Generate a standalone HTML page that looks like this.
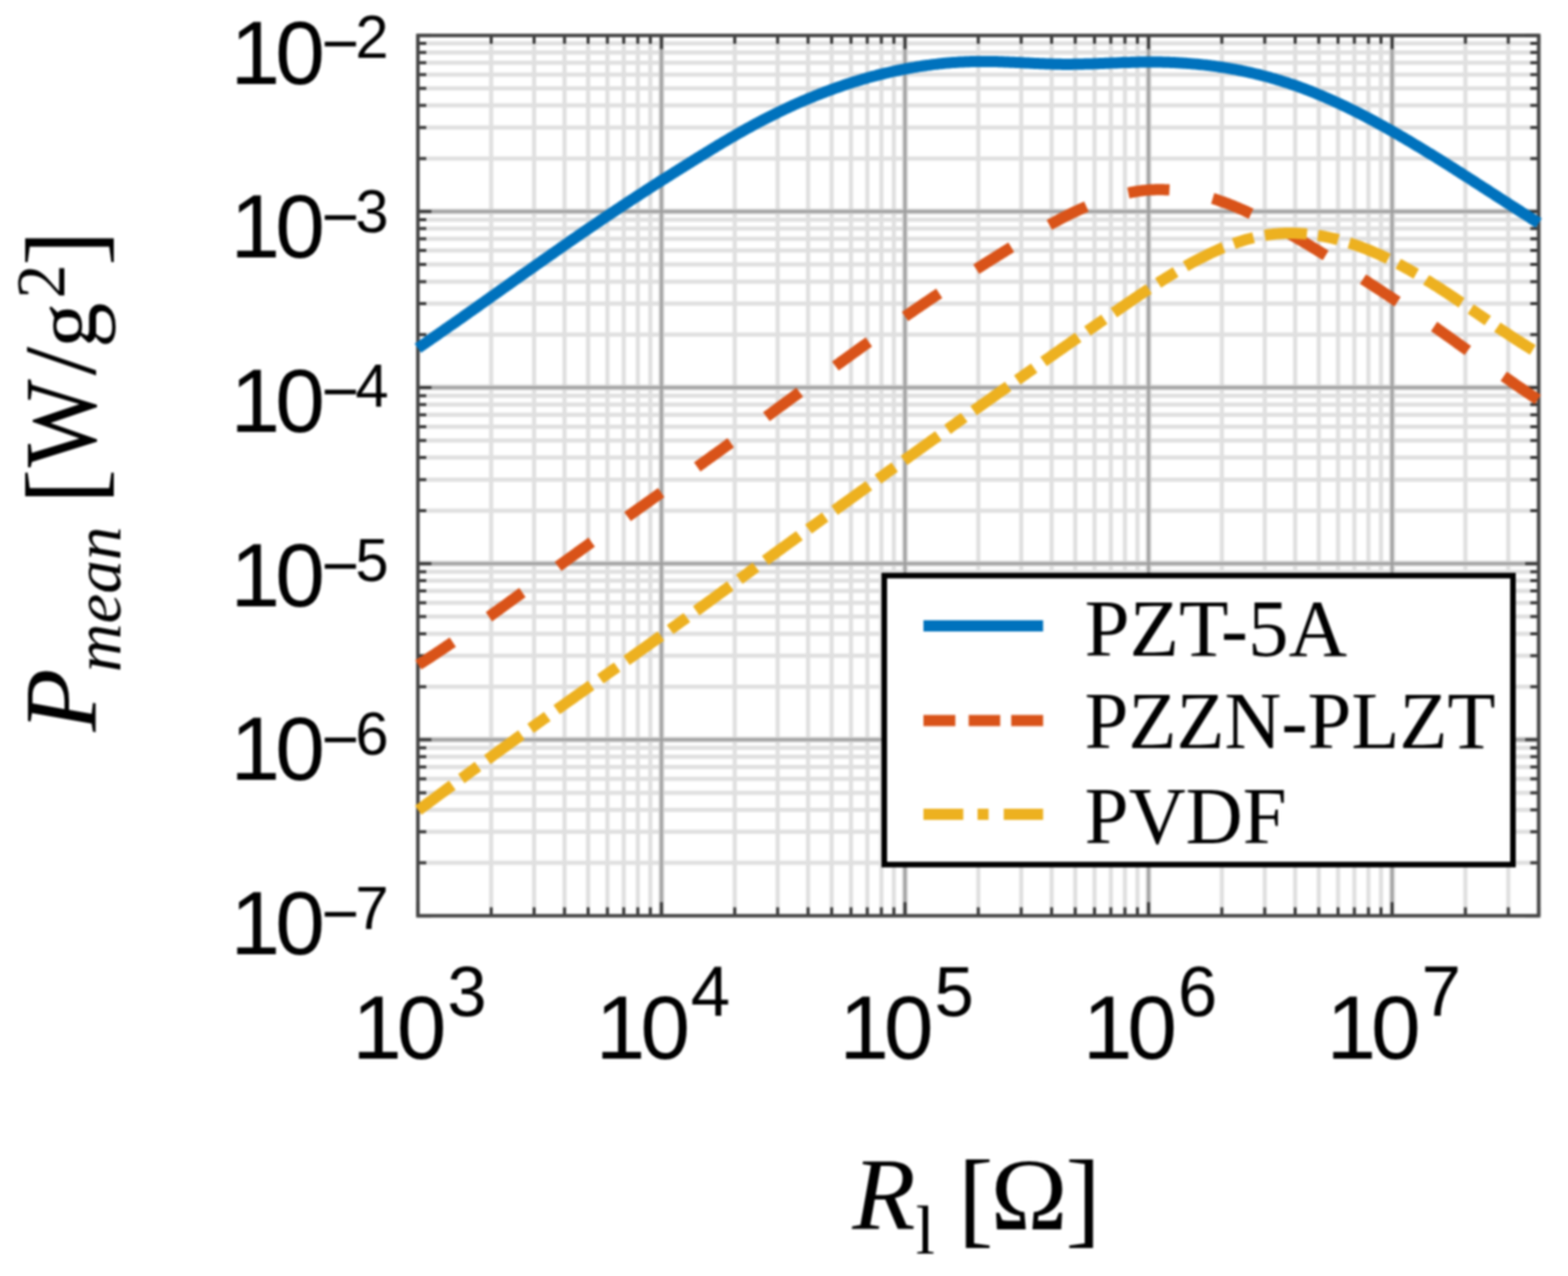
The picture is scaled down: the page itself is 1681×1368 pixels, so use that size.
<!DOCTYPE html><html><head><meta charset="utf-8"><title>P_mean vs R_l</title>
<style>html,body{margin:0;padding:0;background:#fff;}svg{display:block;filter:blur(1px);}</style></head><body>
<svg width="1681" height="1368" viewBox="0 0 1681 1368">
<rect x="0" y="0" width="1681" height="1368" fill="#fff"/>
<path d="M526.6,38.0V981.8M572.6,38.0V981.8M605.2,38.0V981.8M630.5,38.0V981.8M651.2,38.0V981.8M668.7,38.0V981.8M683.8,38.0V981.8M697.2,38.0V981.8M787.7,38.0V981.8M833.7,38.0V981.8M866.3,38.0V981.8M891.6,38.0V981.8M912.3,38.0V981.8M929.8,38.0V981.8M944.9,38.0V981.8M958.3,38.0V981.8M1048.8,38.0V981.8M1094.8,38.0V981.8M1127.4,38.0V981.8M1152.7,38.0V981.8M1173.4,38.0V981.8M1190.9,38.0V981.8M1206.0,38.0V981.8M1219.4,38.0V981.8M1309.9,38.0V981.8M1355.9,38.0V981.8M1388.5,38.0V981.8M1413.8,38.0V981.8M1434.5,38.0V981.8M1452.0,38.0V981.8M1467.1,38.0V981.8M1480.5,38.0V981.8M1571.0,38.0V981.8M1617.0,38.0V981.8M1649.6,38.0V981.8M448.0,925.0H1649.6M448.0,891.7H1649.6M448.0,868.2H1649.6M448.0,849.9H1649.6M448.0,834.9H1649.6M448.0,822.3H1649.6M448.0,811.3H1649.6M448.0,801.7H1649.6M448.0,736.2H1649.6M448.0,703.0H1649.6M448.0,679.4H1649.6M448.0,661.1H1649.6M448.0,646.2H1649.6M448.0,633.5H1649.6M448.0,622.6H1649.6M448.0,612.9H1649.6M448.0,547.5H1649.6M448.0,514.2H1649.6M448.0,490.6H1649.6M448.0,472.3H1649.6M448.0,457.4H1649.6M448.0,444.8H1649.6M448.0,433.8H1649.6M448.0,424.2H1649.6M448.0,358.7H1649.6M448.0,325.5H1649.6M448.0,301.9H1649.6M448.0,283.6H1649.6M448.0,268.6H1649.6M448.0,256.0H1649.6M448.0,245.1H1649.6M448.0,235.4H1649.6M448.0,169.9H1649.6M448.0,136.7H1649.6M448.0,113.1H1649.6M448.0,94.8H1649.6M448.0,79.9H1649.6M448.0,67.2H1649.6M448.0,56.3H1649.6M448.0,46.6H1649.6" stroke="#e0e0e0" stroke-width="4.5" fill="none"/>
<path d="M709.1,38.0V981.8M970.2,38.0V981.8M1231.3,38.0V981.8M1492.4,38.0V981.8M448.0,793.0H1649.6M448.0,604.3H1649.6M448.0,415.5H1649.6M448.0,226.8H1649.6" stroke="#d0d0d0" stroke-width="6" fill="none"/>
<path d="M709.1,38.0V981.8M970.2,38.0V981.8M1231.3,38.0V981.8M1492.4,38.0V981.8M448.0,793.0H1649.6M448.0,604.3H1649.6M448.0,415.5H1649.6M448.0,226.8H1649.6" stroke="#9c9c9c" stroke-width="2.5" fill="none"/>
<path d="M448.0,981.8v-14.5M448.0,38.0v14.5M709.1,981.8v-14.5M709.1,38.0v14.5M970.2,981.8v-14.5M970.2,38.0v14.5M1231.3,981.8v-14.5M1231.3,38.0v14.5M1492.4,981.8v-14.5M1492.4,38.0v14.5M526.6,981.8v-9M526.6,38.0v9M572.6,981.8v-9M572.6,38.0v9M605.2,981.8v-9M605.2,38.0v9M630.5,981.8v-9M630.5,38.0v9M651.2,981.8v-9M651.2,38.0v9M668.7,981.8v-9M668.7,38.0v9M683.8,981.8v-9M683.8,38.0v9M697.2,981.8v-9M697.2,38.0v9M787.7,981.8v-9M787.7,38.0v9M833.7,981.8v-9M833.7,38.0v9M866.3,981.8v-9M866.3,38.0v9M891.6,981.8v-9M891.6,38.0v9M912.3,981.8v-9M912.3,38.0v9M929.8,981.8v-9M929.8,38.0v9M944.9,981.8v-9M944.9,38.0v9M958.3,981.8v-9M958.3,38.0v9M1048.8,981.8v-9M1048.8,38.0v9M1094.8,981.8v-9M1094.8,38.0v9M1127.4,981.8v-9M1127.4,38.0v9M1152.7,981.8v-9M1152.7,38.0v9M1173.4,981.8v-9M1173.4,38.0v9M1190.9,981.8v-9M1190.9,38.0v9M1206.0,981.8v-9M1206.0,38.0v9M1219.4,981.8v-9M1219.4,38.0v9M1309.9,981.8v-9M1309.9,38.0v9M1355.9,981.8v-9M1355.9,38.0v9M1388.5,981.8v-9M1388.5,38.0v9M1413.8,981.8v-9M1413.8,38.0v9M1434.5,981.8v-9M1434.5,38.0v9M1452.0,981.8v-9M1452.0,38.0v9M1467.1,981.8v-9M1467.1,38.0v9M1480.5,981.8v-9M1480.5,38.0v9M1571.0,981.8v-9M1571.0,38.0v9M1617.0,981.8v-9M1617.0,38.0v9M1649.6,981.8v-9M1649.6,38.0v9M448.0,981.8h14.5M1649.6,981.8h-14.5M448.0,793.0h14.5M1649.6,793.0h-14.5M448.0,604.3h14.5M1649.6,604.3h-14.5M448.0,415.5h14.5M1649.6,415.5h-14.5M448.0,226.8h14.5M1649.6,226.8h-14.5M448.0,38.0h14.5M1649.6,38.0h-14.5M448.0,925.0h9M1649.6,925.0h-9M448.0,891.7h9M1649.6,891.7h-9M448.0,868.2h9M1649.6,868.2h-9M448.0,849.9h9M1649.6,849.9h-9M448.0,834.9h9M1649.6,834.9h-9M448.0,822.3h9M1649.6,822.3h-9M448.0,811.3h9M1649.6,811.3h-9M448.0,801.7h9M1649.6,801.7h-9M448.0,736.2h9M1649.6,736.2h-9M448.0,703.0h9M1649.6,703.0h-9M448.0,679.4h9M1649.6,679.4h-9M448.0,661.1h9M1649.6,661.1h-9M448.0,646.2h9M1649.6,646.2h-9M448.0,633.5h9M1649.6,633.5h-9M448.0,622.6h9M1649.6,622.6h-9M448.0,612.9h9M1649.6,612.9h-9M448.0,547.5h9M1649.6,547.5h-9M448.0,514.2h9M1649.6,514.2h-9M448.0,490.6h9M1649.6,490.6h-9M448.0,472.3h9M1649.6,472.3h-9M448.0,457.4h9M1649.6,457.4h-9M448.0,444.8h9M1649.6,444.8h-9M448.0,433.8h9M1649.6,433.8h-9M448.0,424.2h9M1649.6,424.2h-9M448.0,358.7h9M1649.6,358.7h-9M448.0,325.5h9M1649.6,325.5h-9M448.0,301.9h9M1649.6,301.9h-9M448.0,283.6h9M1649.6,283.6h-9M448.0,268.6h9M1649.6,268.6h-9M448.0,256.0h9M1649.6,256.0h-9M448.0,245.1h9M1649.6,245.1h-9M448.0,235.4h9M1649.6,235.4h-9M448.0,169.9h9M1649.6,169.9h-9M448.0,136.7h9M1649.6,136.7h-9M448.0,113.1h9M1649.6,113.1h-9M448.0,94.8h9M1649.6,94.8h-9M448.0,79.9h9M1649.6,79.9h-9M448.0,67.2h9M1649.6,67.2h-9M448.0,56.3h9M1649.6,56.3h-9M448.0,46.6h9M1649.6,46.6h-9" stroke="#2e2e2e" stroke-width="3" fill="none"/>
<rect x="448.0" y="38.0" width="1201.6" height="943.8" fill="none" stroke="#454545" stroke-width="3.8"/>
<g fill="none" stroke-width="12" stroke-linejoin="round">
<path d="M448.0,373.3 L450.0,371.9 L452.0,370.5 L454.0,369.2 L456.0,367.8 L458.0,366.4 L460.0,365.0 L462.0,363.6 L464.0,362.2 L466.0,360.9 L468.0,359.5 L470.0,358.1 L472.0,356.7 L474.0,355.3 L476.0,353.9 L478.0,352.5 L480.0,351.1 L482.0,349.7 L484.0,348.3 L486.1,346.9 L488.1,345.5 L490.1,344.1 L492.1,342.7 L494.1,341.3 L496.1,339.9 L498.1,338.4 L500.1,337.0 L502.1,335.6 L504.1,334.2 L506.1,332.8 L508.1,331.4 L510.1,330.0 L512.1,328.6 L514.1,327.1 L516.1,325.7 L518.1,324.3 L520.1,322.9 L522.1,321.5 L524.1,320.1 L526.1,318.6 L528.1,317.2 L530.1,315.8 L532.1,314.4 L534.1,313.0 L536.1,311.5 L538.1,310.1 L540.1,308.7 L542.1,307.3 L544.1,305.9 L546.1,304.5 L548.1,303.0 L550.1,301.6 L552.1,300.2 L554.1,298.8 L556.1,297.4 L558.1,295.9 L560.1,294.5 L562.2,293.1 L564.2,291.7 L566.2,290.3 L568.2,288.9 L570.2,287.5 L572.2,286.0 L574.2,284.6 L576.2,283.2 L578.2,281.8 L580.2,280.4 L582.2,279.0 L584.2,277.6 L586.2,276.2 L588.2,274.8 L590.2,273.4 L592.2,272.0 L594.2,270.6 L596.2,269.2 L598.2,267.8 L600.2,266.4 L602.2,265.0 L604.2,263.6 L606.2,262.2 L608.2,260.8 L610.2,259.4 L612.2,258.0 L614.2,256.6 L616.2,255.3 L618.2,253.9 L620.2,252.5 L622.2,251.1 L624.2,249.7 L626.2,248.4 L628.2,247.0 L630.2,245.6 L632.2,244.3 L634.2,242.9 L636.3,241.5 L638.3,240.2 L640.3,238.8 L642.3,237.4 L644.3,236.1 L646.3,234.7 L648.3,233.4 L650.3,232.0 L652.3,230.7 L654.3,229.4 L656.3,228.0 L658.3,226.7 L660.3,225.4 L662.3,224.0 L664.3,222.7 L666.3,221.4 L668.3,220.0 L670.3,218.7 L672.3,217.4 L674.3,216.1 L676.3,214.8 L678.3,213.5 L680.3,212.2 L682.3,210.9 L684.3,209.6 L686.3,208.3 L688.3,207.0 L690.3,205.7 L692.3,204.4 L694.3,203.1 L696.3,201.8 L698.3,200.5 L700.3,199.2 L702.3,197.9 L704.3,196.7 L706.3,195.4 L708.3,194.1 L710.3,192.8 L712.4,191.6 L714.4,190.3 L716.4,189.0 L718.4,187.8 L720.4,186.5 L722.4,185.2 L724.4,184.0 L726.4,182.7 L728.4,181.5 L730.4,180.2 L732.4,179.0 L734.4,177.7 L736.4,176.5 L738.4,175.2 L740.4,174.0 L742.4,172.7 L744.4,171.5 L746.4,170.2 L748.4,169.0 L750.4,167.8 L752.4,166.5 L754.4,165.3 L756.4,164.1 L758.4,162.8 L760.4,161.6 L762.4,160.4 L764.4,159.2 L766.4,158.0 L768.4,156.7 L770.4,155.5 L772.4,154.3 L774.4,153.1 L776.4,151.9 L778.4,150.8 L780.4,149.6 L782.4,148.4 L784.4,147.2 L786.5,146.1 L788.5,144.9 L790.5,143.7 L792.5,142.6 L794.5,141.5 L796.5,140.3 L798.5,139.2 L800.5,138.1 L802.5,137.0 L804.5,135.9 L806.5,134.8 L808.5,133.7 L810.5,132.6 L812.5,131.6 L814.5,130.5 L816.5,129.4 L818.5,128.4 L820.5,127.4 L822.5,126.3 L824.5,125.3 L826.5,124.3 L828.5,123.3 L830.5,122.3 L832.5,121.3 L834.5,120.3 L836.5,119.4 L838.5,118.4 L840.5,117.5 L842.5,116.5 L844.5,115.6 L846.5,114.6 L848.5,113.7 L850.5,112.8 L852.5,111.9 L854.5,111.0 L856.5,110.1 L858.5,109.2 L860.5,108.4 L862.6,107.5 L864.6,106.7 L866.6,105.8 L868.6,105.0 L870.6,104.2 L872.6,103.3 L874.6,102.5 L876.6,101.7 L878.6,100.9 L880.6,100.1 L882.6,99.4 L884.6,98.6 L886.6,97.8 L888.6,97.1 L890.6,96.4 L892.6,95.6 L894.6,94.9 L896.6,94.2 L898.6,93.5 L900.6,92.8 L902.6,92.1 L904.6,91.4 L906.6,90.7 L908.6,90.1 L910.6,89.4 L912.6,88.8 L914.6,88.1 L916.6,87.5 L918.6,86.9 L920.6,86.3 L922.6,85.7 L924.6,85.1 L926.6,84.5 L928.6,83.9 L930.6,83.3 L932.6,82.8 L934.6,82.2 L936.7,81.7 L938.7,81.2 L940.7,80.6 L942.7,80.1 L944.7,79.6 L946.7,79.1 L948.7,78.6 L950.7,78.2 L952.7,77.7 L954.7,77.2 L956.7,76.8 L958.7,76.3 L960.7,75.9 L962.7,75.5 L964.7,75.1 L966.7,74.7 L968.7,74.3 L970.7,73.9 L972.7,73.5 L974.7,73.1 L976.7,72.8 L978.7,72.4 L980.7,72.1 L982.7,71.7 L984.7,71.4 L986.7,71.1 L988.7,70.8 L990.7,70.5 L992.7,70.2 L994.7,69.9 L996.7,69.7 L998.7,69.4 L1000.7,69.1 L1002.7,68.9 L1004.7,68.7 L1006.7,68.4 L1008.7,68.2 L1010.7,68.0 L1012.8,67.8 L1014.8,67.6 L1016.8,67.5 L1018.8,67.3 L1020.8,67.1 L1022.8,67.0 L1024.8,66.9 L1026.8,66.7 L1028.8,66.6 L1030.8,66.5 L1032.8,66.4 L1034.8,66.3 L1036.8,66.2 L1038.8,66.2 L1040.8,66.1 L1042.8,66.0 L1044.8,66.0 L1046.8,66.0 L1048.8,65.9 L1050.8,65.9 L1052.8,65.9 L1054.8,65.9 L1056.8,65.9 L1058.8,65.9 L1060.8,66.0 L1062.8,66.0 L1064.8,66.0 L1066.8,66.1 L1068.8,66.1 L1070.8,66.2 L1072.8,66.3 L1074.8,66.3 L1076.8,66.4 L1078.8,66.5 L1080.8,66.6 L1082.8,66.7 L1084.8,66.7 L1086.9,66.8 L1088.9,66.9 L1090.9,67.0 L1092.9,67.1 L1094.9,67.2 L1096.9,67.3 L1098.9,67.4 L1100.9,67.5 L1102.9,67.6 L1104.9,67.7 L1106.9,67.8 L1108.9,67.9 L1110.9,68.0 L1112.9,68.1 L1114.9,68.2 L1116.9,68.2 L1118.9,68.3 L1120.9,68.4 L1122.9,68.5 L1124.9,68.5 L1126.9,68.6 L1128.9,68.7 L1130.9,68.7 L1132.9,68.8 L1134.9,68.8 L1136.9,68.8 L1138.9,68.9 L1140.9,68.9 L1142.9,68.9 L1144.9,68.9 L1146.9,68.9 L1148.9,68.9 L1150.9,68.8 L1152.9,68.8 L1154.9,68.8 L1156.9,68.8 L1158.9,68.7 L1160.9,68.7 L1163.0,68.6 L1165.0,68.6 L1167.0,68.5 L1169.0,68.4 L1171.0,68.4 L1173.0,68.3 L1175.0,68.2 L1177.0,68.2 L1179.0,68.1 L1181.0,68.0 L1183.0,67.9 L1185.0,67.8 L1187.0,67.8 L1189.0,67.7 L1191.0,67.6 L1193.0,67.5 L1195.0,67.4 L1197.0,67.4 L1199.0,67.3 L1201.0,67.2 L1203.0,67.1 L1205.0,67.1 L1207.0,67.0 L1209.0,66.9 L1211.0,66.9 L1213.0,66.8 L1215.0,66.8 L1217.0,66.7 L1219.0,66.7 L1221.0,66.6 L1223.0,66.6 L1225.0,66.6 L1227.0,66.5 L1229.0,66.5 L1231.0,66.5 L1233.0,66.5 L1235.0,66.5 L1237.1,66.5 L1239.1,66.5 L1241.1,66.5 L1243.1,66.6 L1245.1,66.6 L1247.1,66.7 L1249.1,66.7 L1251.1,66.8 L1253.1,66.8 L1255.1,66.9 L1257.1,67.0 L1259.1,67.1 L1261.1,67.2 L1263.1,67.3 L1265.1,67.4 L1267.1,67.5 L1269.1,67.7 L1271.1,67.8 L1273.1,67.9 L1275.1,68.1 L1277.1,68.3 L1279.1,68.4 L1281.1,68.6 L1283.1,68.8 L1285.1,69.0 L1287.1,69.2 L1289.1,69.4 L1291.1,69.6 L1293.1,69.8 L1295.1,70.1 L1297.1,70.3 L1299.1,70.6 L1301.1,70.8 L1303.1,71.1 L1305.1,71.4 L1307.1,71.7 L1309.1,72.0 L1311.1,72.3 L1313.2,72.6 L1315.2,72.9 L1317.2,73.3 L1319.2,73.6 L1321.2,74.0 L1323.2,74.3 L1325.2,74.7 L1327.2,75.1 L1329.2,75.5 L1331.2,75.9 L1333.2,76.3 L1335.2,76.7 L1337.2,77.2 L1339.2,77.6 L1341.2,78.0 L1343.2,78.5 L1345.2,79.0 L1347.2,79.5 L1349.2,79.9 L1351.2,80.4 L1353.2,81.0 L1355.2,81.5 L1357.2,82.0 L1359.2,82.5 L1361.2,83.1 L1363.2,83.7 L1365.2,84.2 L1367.2,84.8 L1369.2,85.4 L1371.2,86.0 L1373.2,86.6 L1375.2,87.3 L1377.2,87.9 L1379.2,88.5 L1381.2,89.2 L1383.2,89.9 L1385.2,90.5 L1387.3,91.2 L1389.3,91.9 L1391.3,92.6 L1393.3,93.4 L1395.3,94.1 L1397.3,94.8 L1399.3,95.6 L1401.3,96.4 L1403.3,97.1 L1405.3,97.9 L1407.3,98.7 L1409.3,99.5 L1411.3,100.4 L1413.3,101.2 L1415.3,102.0 L1417.3,102.9 L1419.3,103.7 L1421.3,104.6 L1423.3,105.5 L1425.3,106.4 L1427.3,107.2 L1429.3,108.1 L1431.3,109.1 L1433.3,110.0 L1435.3,110.9 L1437.3,111.8 L1439.3,112.8 L1441.3,113.7 L1443.3,114.7 L1445.3,115.7 L1447.3,116.7 L1449.3,117.6 L1451.3,118.6 L1453.3,119.6 L1455.3,120.7 L1457.3,121.7 L1459.3,122.7 L1461.3,123.7 L1463.4,124.8 L1465.4,125.8 L1467.4,126.9 L1469.4,127.9 L1471.4,129.0 L1473.4,130.1 L1475.4,131.2 L1477.4,132.3 L1479.4,133.4 L1481.4,134.5 L1483.4,135.6 L1485.4,136.7 L1487.4,137.8 L1489.4,138.9 L1491.4,140.1 L1493.4,141.2 L1495.4,142.3 L1497.4,143.5 L1499.4,144.6 L1501.4,145.8 L1503.4,147.0 L1505.4,148.1 L1507.4,149.3 L1509.4,150.5 L1511.4,151.7 L1513.4,152.9 L1515.4,154.1 L1517.4,155.3 L1519.4,156.5 L1521.4,157.7 L1523.4,158.9 L1525.4,160.1 L1527.4,161.3 L1529.4,162.6 L1531.4,163.8 L1533.4,165.0 L1535.4,166.2 L1537.5,167.5 L1539.5,168.7 L1541.5,170.0 L1543.5,171.2 L1545.5,172.5 L1547.5,173.7 L1549.5,175.0 L1551.5,176.2 L1553.5,177.5 L1555.5,178.8 L1557.5,180.0 L1559.5,181.3 L1561.5,182.6 L1563.5,183.8 L1565.5,185.1 L1567.5,186.4 L1569.5,187.7 L1571.5,189.0 L1573.5,190.2 L1575.5,191.5 L1577.5,192.8 L1579.5,194.1 L1581.5,195.4 L1583.5,196.7 L1585.5,198.0 L1587.5,199.3 L1589.5,200.6 L1591.5,201.8 L1593.5,203.1 L1595.5,204.4 L1597.5,205.7 L1599.5,207.0 L1601.5,208.3 L1603.5,209.6 L1605.5,210.9 L1607.5,212.2 L1609.5,213.5 L1611.5,214.8 L1613.6,216.1 L1615.6,217.4 L1617.6,218.7 L1619.6,220.0 L1621.6,221.3 L1623.6,222.5 L1625.6,223.8 L1627.6,225.1 L1629.6,226.4 L1631.6,227.7 L1633.6,229.0 L1635.6,230.2 L1637.6,231.5 L1639.6,232.8 L1641.6,234.1 L1643.6,235.4 L1645.6,236.6 L1647.6,237.9 L1649.6,239.2" stroke="#0072BD"/>
<path d="M448.0,713.1 L450.0,711.8 L452.0,710.5 L454.0,709.3 L456.0,708.0 L458.0,706.7 L460.0,705.4 L462.0,704.1 L464.0,702.8 L466.0,701.5 L468.0,700.1 L470.0,698.8 L472.0,697.5 L474.0,696.1 L476.0,694.8 L478.0,693.4 L480.0,692.1 L482.0,690.7 L484.0,689.4 L486.1,688.0 L488.1,686.6 L490.1,685.3 L492.1,683.9 L494.1,682.5 L496.1,681.1 L498.1,679.7 L500.1,678.3 L502.1,676.9 L504.1,675.5 L506.1,674.1 L508.1,672.7 L510.1,671.3 L512.1,669.9 L514.1,668.4 L516.1,667.0 L518.1,665.6 L520.1,664.2 L522.1,662.7 L524.1,661.3 L526.1,659.9 L528.1,658.4 L530.1,657.0 L532.1,655.5 L534.1,654.1 L536.1,652.6 L538.1,651.2 L540.1,649.7 L542.1,648.3 L544.1,646.8 L546.1,645.4 L548.1,643.9 L550.1,642.5 L552.1,641.0 L554.1,639.5 L556.1,638.1 L558.1,636.6 L560.1,635.2 L562.2,633.7 L564.2,632.2 L566.2,630.8 L568.2,629.3 L570.2,627.8 L572.2,626.4 L574.2,624.9 L576.2,623.4 L578.2,622.0 L580.2,620.5 L582.2,619.0 L584.2,617.6 L586.2,616.1 L588.2,614.7 L590.2,613.2 L592.2,611.7 L594.2,610.3 L596.2,608.8 L598.2,607.4 L600.2,605.9 L602.2,604.4 L604.2,603.0 L606.2,601.5 L608.2,600.1 L610.2,598.6 L612.2,597.2 L614.2,595.8 L616.2,594.3 L618.2,592.9 L620.2,591.4 L622.2,590.0 L624.2,588.5 L626.2,587.1 L628.2,585.7 L630.2,584.2 L632.2,582.8 L634.2,581.3 L636.3,579.9 L638.3,578.5 L640.3,577.0 L642.3,575.6 L644.3,574.2 L646.3,572.7 L648.3,571.3 L650.3,569.9 L652.3,568.4 L654.3,567.0 L656.3,565.6 L658.3,564.2 L660.3,562.7 L662.3,561.3 L664.3,559.9 L666.3,558.4 L668.3,557.0 L670.3,555.6 L672.3,554.2 L674.3,552.7 L676.3,551.3 L678.3,549.9 L680.3,548.5 L682.3,547.0 L684.3,545.6 L686.3,544.2 L688.3,542.8 L690.3,541.4 L692.3,539.9 L694.3,538.5 L696.3,537.1 L698.3,535.7 L700.3,534.2 L702.3,532.8 L704.3,531.4 L706.3,530.0 L708.3,528.5 L710.3,527.1 L712.4,525.7 L714.4,524.3 L716.4,522.8 L718.4,521.4 L720.4,520.0 L722.4,518.6 L724.4,517.1 L726.4,515.7 L728.4,514.3 L730.4,512.8 L732.4,511.4 L734.4,510.0 L736.4,508.5 L738.4,507.1 L740.4,505.7 L742.4,504.3 L744.4,502.8 L746.4,501.4 L748.4,500.0 L750.4,498.5 L752.4,497.1 L754.4,495.6 L756.4,494.2 L758.4,492.8 L760.4,491.3 L762.4,489.9 L764.4,488.4 L766.4,487.0 L768.4,485.6 L770.4,484.1 L772.4,482.7 L774.4,481.2 L776.4,479.8 L778.4,478.3 L780.4,476.9 L782.4,475.4 L784.4,474.0 L786.5,472.5 L788.5,471.0 L790.5,469.6 L792.5,468.1 L794.5,466.7 L796.5,465.2 L798.5,463.7 L800.5,462.3 L802.5,460.8 L804.5,459.4 L806.5,457.9 L808.5,456.4 L810.5,455.0 L812.5,453.5 L814.5,452.0 L816.5,450.6 L818.5,449.1 L820.5,447.6 L822.5,446.1 L824.5,444.7 L826.5,443.2 L828.5,441.7 L830.5,440.3 L832.5,438.8 L834.5,437.3 L836.5,435.8 L838.5,434.4 L840.5,432.9 L842.5,431.4 L844.5,430.0 L846.5,428.5 L848.5,427.0 L850.5,425.5 L852.5,424.1 L854.5,422.6 L856.5,421.1 L858.5,419.6 L860.5,418.2 L862.6,416.7 L864.6,415.2 L866.6,413.8 L868.6,412.3 L870.6,410.8 L872.6,409.4 L874.6,407.9 L876.6,406.4 L878.6,405.0 L880.6,403.5 L882.6,402.0 L884.6,400.6 L886.6,399.1 L888.6,397.6 L890.6,396.2 L892.6,394.7 L894.6,393.3 L896.6,391.8 L898.6,390.3 L900.6,388.9 L902.6,387.4 L904.6,386.0 L906.6,384.5 L908.6,383.1 L910.6,381.6 L912.6,380.2 L914.6,378.7 L916.6,377.3 L918.6,375.9 L920.6,374.4 L922.6,373.0 L924.6,371.5 L926.6,370.1 L928.6,368.7 L930.6,367.2 L932.6,365.8 L934.6,364.4 L936.7,363.0 L938.7,361.5 L940.7,360.1 L942.7,358.7 L944.7,357.3 L946.7,355.9 L948.7,354.4 L950.7,353.0 L952.7,351.6 L954.7,350.2 L956.7,348.8 L958.7,347.4 L960.7,346.0 L962.7,344.6 L964.7,343.2 L966.7,341.8 L968.7,340.5 L970.7,339.1 L972.7,337.7 L974.7,336.3 L976.7,334.9 L978.7,333.6 L980.7,332.2 L982.7,330.8 L984.7,329.5 L986.7,328.1 L988.7,326.7 L990.7,325.4 L992.7,324.0 L994.7,322.7 L996.7,321.3 L998.7,320.0 L1000.7,318.6 L1002.7,317.3 L1004.7,316.0 L1006.7,314.6 L1008.7,313.3 L1010.7,312.0 L1012.8,310.6 L1014.8,309.3 L1016.8,308.0 L1018.8,306.7 L1020.8,305.4 L1022.8,304.0 L1024.8,302.7 L1026.8,301.4 L1028.8,300.1 L1030.8,298.8 L1032.8,297.5 L1034.8,296.2 L1036.8,294.9 L1038.8,293.6 L1040.8,292.4 L1042.8,291.1 L1044.8,289.8 L1046.8,288.5 L1048.8,287.2 L1050.8,286.0 L1052.8,284.7 L1054.8,283.4 L1056.8,282.1 L1058.8,280.9 L1060.8,279.6 L1062.8,278.4 L1064.8,277.1 L1066.8,275.9 L1068.8,274.6 L1070.8,273.4 L1072.8,272.1 L1074.8,270.9 L1076.8,269.6 L1078.8,268.4 L1080.8,267.2 L1082.8,265.9 L1084.8,264.7 L1086.9,263.5 L1088.9,262.3 L1090.9,261.0 L1092.9,259.8 L1094.9,258.6 L1096.9,257.4 L1098.9,256.2 L1100.9,255.0 L1102.9,253.8 L1104.9,252.6 L1106.9,251.5 L1108.9,250.3 L1110.9,249.1 L1112.9,248.0 L1114.9,246.8 L1116.9,245.7 L1118.9,244.5 L1120.9,243.4 L1122.9,242.3 L1124.9,241.2 L1126.9,240.1 L1128.9,239.0 L1130.9,237.9 L1132.9,236.9 L1134.9,235.8 L1136.9,234.7 L1138.9,233.7 L1140.9,232.7 L1142.9,231.7 L1144.9,230.7 L1146.9,229.7 L1148.9,228.7 L1150.9,227.7 L1152.9,226.8 L1154.9,225.9 L1156.9,224.9 L1158.9,224.0 L1160.9,223.1 L1163.0,222.3 L1165.0,221.4 L1167.0,220.5 L1169.0,219.7 L1171.0,218.9 L1173.0,218.1 L1175.0,217.3 L1177.0,216.6 L1179.0,215.8 L1181.0,215.1 L1183.0,214.4 L1185.0,213.7 L1187.0,213.0 L1189.0,212.4 L1191.0,211.7 L1193.0,211.1 L1195.0,210.5 L1197.0,210.0 L1199.0,209.4 L1201.0,208.9 L1203.0,208.4 L1205.0,207.9 L1207.0,207.4 L1209.0,207.0 L1211.0,206.6 L1213.0,206.2 L1215.0,205.8 L1217.0,205.5 L1219.0,205.1 L1221.0,204.8 L1223.0,204.6 L1225.0,204.3 L1227.0,204.1 L1229.0,203.9 L1231.0,203.7 L1233.0,203.6 L1235.0,203.5 L1237.1,203.4 L1239.1,203.3 L1241.1,203.3 L1243.1,203.3 L1245.1,203.3 L1247.1,203.3 L1249.1,203.4 L1251.1,203.5 L1253.1,203.6 L1255.1,203.7 L1257.1,203.9 L1259.1,204.1 L1261.1,204.3 L1263.1,204.5 L1265.1,204.8 L1267.1,205.1 L1269.1,205.4 L1271.1,205.7 L1273.1,206.0 L1275.1,206.4 L1277.1,206.8 L1279.1,207.2 L1281.1,207.7 L1283.1,208.1 L1285.1,208.6 L1287.1,209.1 L1289.1,209.6 L1291.1,210.1 L1293.1,210.7 L1295.1,211.3 L1297.1,211.9 L1299.1,212.5 L1301.1,213.1 L1303.1,213.7 L1305.1,214.4 L1307.1,215.1 L1309.1,215.8 L1311.1,216.5 L1313.2,217.2 L1315.2,218.0 L1317.2,218.7 L1319.2,219.5 L1321.2,220.3 L1323.2,221.1 L1325.2,222.0 L1327.2,222.8 L1329.2,223.7 L1331.2,224.5 L1333.2,225.4 L1335.2,226.3 L1337.2,227.2 L1339.2,228.1 L1341.2,229.1 L1343.2,230.0 L1345.2,231.0 L1347.2,232.0 L1349.2,232.9 L1351.2,233.9 L1353.2,234.9 L1355.2,236.0 L1357.2,237.0 L1359.2,238.0 L1361.2,239.1 L1363.2,240.1 L1365.2,241.2 L1367.2,242.3 L1369.2,243.4 L1371.2,244.4 L1373.2,245.5 L1375.2,246.7 L1377.2,247.8 L1379.2,248.9 L1381.2,250.0 L1383.2,251.2 L1385.2,252.3 L1387.3,253.5 L1389.3,254.6 L1391.3,255.8 L1393.3,257.0 L1395.3,258.1 L1397.3,259.3 L1399.3,260.5 L1401.3,261.7 L1403.3,262.9 L1405.3,264.1 L1407.3,265.3 L1409.3,266.5 L1411.3,267.7 L1413.3,269.0 L1415.3,270.2 L1417.3,271.4 L1419.3,272.7 L1421.3,273.9 L1423.3,275.1 L1425.3,276.4 L1427.3,277.6 L1429.3,278.9 L1431.3,280.2 L1433.3,281.4 L1435.3,282.7 L1437.3,283.9 L1439.3,285.2 L1441.3,286.5 L1443.3,287.8 L1445.3,289.0 L1447.3,290.3 L1449.3,291.6 L1451.3,292.9 L1453.3,294.2 L1455.3,295.5 L1457.3,296.8 L1459.3,298.0 L1461.3,299.3 L1463.4,300.6 L1465.4,301.9 L1467.4,303.2 L1469.4,304.5 L1471.4,305.8 L1473.4,307.1 L1475.4,308.4 L1477.4,309.7 L1479.4,311.0 L1481.4,312.3 L1483.4,313.7 L1485.4,315.0 L1487.4,316.3 L1489.4,317.6 L1491.4,318.9 L1493.4,320.2 L1495.4,321.6 L1497.4,322.9 L1499.4,324.2 L1501.4,325.5 L1503.4,326.9 L1505.4,328.2 L1507.4,329.6 L1509.4,330.9 L1511.4,332.3 L1513.4,333.6 L1515.4,335.0 L1517.4,336.3 L1519.4,337.7 L1521.4,339.0 L1523.4,340.4 L1525.4,341.8 L1527.4,343.2 L1529.4,344.5 L1531.4,345.9 L1533.4,347.3 L1535.4,348.7 L1537.5,350.1 L1539.5,351.5 L1541.5,352.9 L1543.5,354.3 L1545.5,355.7 L1547.5,357.2 L1549.5,358.6 L1551.5,360.0 L1553.5,361.4 L1555.5,362.8 L1557.5,364.3 L1559.5,365.7 L1561.5,367.1 L1563.5,368.6 L1565.5,370.0 L1567.5,371.5 L1569.5,372.9 L1571.5,374.3 L1573.5,375.8 L1575.5,377.2 L1577.5,378.7 L1579.5,380.1 L1581.5,381.5 L1583.5,383.0 L1585.5,384.4 L1587.5,385.9 L1589.5,387.3 L1591.5,388.7 L1593.5,390.2 L1595.5,391.6 L1597.5,393.1 L1599.5,394.5 L1601.5,395.9 L1603.5,397.3 L1605.5,398.8 L1607.5,400.2 L1609.5,401.6 L1611.5,403.0 L1613.6,404.4 L1615.6,405.8 L1617.6,407.2 L1619.6,408.6 L1621.6,410.0 L1623.6,411.4 L1625.6,412.8 L1627.6,414.2 L1629.6,415.6 L1631.6,416.9 L1633.6,418.3 L1635.6,419.6 L1637.6,421.0 L1639.6,422.3 L1641.6,423.7 L1643.6,425.0 L1645.6,426.3 L1647.6,427.7 L1649.6,429.0" stroke="#D95319" stroke-dasharray="44.34 47.35" stroke-dashoffset="-0.5"/>
<path d="M448.0,868.9 L450.0,867.5 L452.0,866.0 L454.0,864.5 L456.0,863.1 L458.0,861.6 L460.0,860.1 L462.0,858.7 L464.0,857.2 L466.0,855.7 L468.0,854.2 L470.0,852.8 L472.0,851.3 L474.0,849.8 L476.0,848.4 L478.0,846.9 L480.0,845.4 L482.0,843.9 L484.0,842.5 L486.1,841.0 L488.1,839.5 L490.1,838.1 L492.1,836.6 L494.1,835.1 L496.1,833.7 L498.1,832.2 L500.1,830.7 L502.1,829.3 L504.1,827.8 L506.1,826.3 L508.1,824.9 L510.1,823.4 L512.1,821.9 L514.1,820.5 L516.1,819.0 L518.1,817.5 L520.1,816.1 L522.1,814.6 L524.1,813.2 L526.1,811.7 L528.1,810.2 L530.1,808.8 L532.1,807.3 L534.1,805.9 L536.1,804.4 L538.1,803.0 L540.1,801.5 L542.1,800.1 L544.1,798.6 L546.1,797.2 L548.1,795.7 L550.1,794.3 L552.1,792.9 L554.1,791.4 L556.1,790.0 L558.1,788.5 L560.1,787.1 L562.2,785.7 L564.2,784.2 L566.2,782.8 L568.2,781.3 L570.2,779.9 L572.2,778.5 L574.2,777.0 L576.2,775.6 L578.2,774.2 L580.2,772.8 L582.2,771.3 L584.2,769.9 L586.2,768.5 L588.2,767.0 L590.2,765.6 L592.2,764.2 L594.2,762.8 L596.2,761.3 L598.2,759.9 L600.2,758.5 L602.2,757.1 L604.2,755.7 L606.2,754.2 L608.2,752.8 L610.2,751.4 L612.2,750.0 L614.2,748.6 L616.2,747.1 L618.2,745.7 L620.2,744.3 L622.2,742.9 L624.2,741.5 L626.2,740.1 L628.2,738.7 L630.2,737.3 L632.2,735.8 L634.2,734.4 L636.3,733.0 L638.3,731.6 L640.3,730.2 L642.3,728.8 L644.3,727.4 L646.3,726.0 L648.3,724.5 L650.3,723.1 L652.3,721.7 L654.3,720.3 L656.3,718.9 L658.3,717.5 L660.3,716.1 L662.3,714.7 L664.3,713.3 L666.3,711.9 L668.3,710.4 L670.3,709.0 L672.3,707.6 L674.3,706.2 L676.3,704.8 L678.3,703.4 L680.3,702.0 L682.3,700.5 L684.3,699.1 L686.3,697.7 L688.3,696.3 L690.3,694.9 L692.3,693.5 L694.3,692.0 L696.3,690.6 L698.3,689.2 L700.3,687.8 L702.3,686.4 L704.3,684.9 L706.3,683.5 L708.3,682.1 L710.3,680.7 L712.4,679.2 L714.4,677.8 L716.4,676.4 L718.4,675.0 L720.4,673.5 L722.4,672.1 L724.4,670.7 L726.4,669.2 L728.4,667.8 L730.4,666.3 L732.4,664.9 L734.4,663.5 L736.4,662.0 L738.4,660.6 L740.4,659.1 L742.4,657.7 L744.4,656.2 L746.4,654.8 L748.4,653.4 L750.4,651.9 L752.4,650.4 L754.4,649.0 L756.4,647.5 L758.4,646.1 L760.4,644.6 L762.4,643.2 L764.4,641.7 L766.4,640.2 L768.4,638.8 L770.4,637.3 L772.4,635.8 L774.4,634.4 L776.4,632.9 L778.4,631.5 L780.4,630.0 L782.4,628.5 L784.4,627.1 L786.5,625.6 L788.5,624.1 L790.5,622.7 L792.5,621.2 L794.5,619.7 L796.5,618.3 L798.5,616.8 L800.5,615.3 L802.5,613.9 L804.5,612.4 L806.5,610.9 L808.5,609.5 L810.5,608.0 L812.5,606.5 L814.5,605.1 L816.5,603.6 L818.5,602.2 L820.5,600.7 L822.5,599.2 L824.5,597.8 L826.5,596.3 L828.5,594.9 L830.5,593.4 L832.5,592.0 L834.5,590.5 L836.5,589.1 L838.5,587.6 L840.5,586.2 L842.5,584.7 L844.5,583.3 L846.5,581.8 L848.5,580.4 L850.5,578.9 L852.5,577.5 L854.5,576.0 L856.5,574.6 L858.5,573.1 L860.5,571.7 L862.6,570.3 L864.6,568.8 L866.6,567.4 L868.6,565.9 L870.6,564.5 L872.6,563.0 L874.6,561.6 L876.6,560.2 L878.6,558.7 L880.6,557.3 L882.6,555.8 L884.6,554.4 L886.6,553.0 L888.6,551.5 L890.6,550.1 L892.6,548.6 L894.6,547.2 L896.6,545.8 L898.6,544.3 L900.6,542.9 L902.6,541.4 L904.6,540.0 L906.6,538.6 L908.6,537.1 L910.6,535.7 L912.6,534.2 L914.6,532.8 L916.6,531.4 L918.6,529.9 L920.6,528.5 L922.6,527.0 L924.6,525.6 L926.6,524.2 L928.6,522.7 L930.6,521.3 L932.6,519.8 L934.6,518.4 L936.7,517.0 L938.7,515.5 L940.7,514.1 L942.7,512.6 L944.7,511.2 L946.7,509.8 L948.7,508.3 L950.7,506.9 L952.7,505.4 L954.7,504.0 L956.7,502.6 L958.7,501.1 L960.7,499.7 L962.7,498.3 L964.7,496.8 L966.7,495.4 L968.7,493.9 L970.7,492.5 L972.7,491.1 L974.7,489.6 L976.7,488.2 L978.7,486.8 L980.7,485.3 L982.7,483.9 L984.7,482.5 L986.7,481.0 L988.7,479.6 L990.7,478.2 L992.7,476.7 L994.7,475.3 L996.7,473.9 L998.7,472.4 L1000.7,471.0 L1002.7,469.6 L1004.7,468.1 L1006.7,466.7 L1008.7,465.3 L1010.7,463.8 L1012.8,462.4 L1014.8,461.0 L1016.8,459.6 L1018.8,458.1 L1020.8,456.7 L1022.8,455.3 L1024.8,453.9 L1026.8,452.4 L1028.8,451.0 L1030.8,449.6 L1032.8,448.2 L1034.8,446.7 L1036.8,445.3 L1038.8,443.9 L1040.8,442.5 L1042.8,441.0 L1044.8,439.6 L1046.8,438.2 L1048.8,436.8 L1050.8,435.4 L1052.8,433.9 L1054.8,432.5 L1056.8,431.1 L1058.8,429.7 L1060.8,428.3 L1062.8,426.9 L1064.8,425.4 L1066.8,424.0 L1068.8,422.6 L1070.8,421.2 L1072.8,419.8 L1074.8,418.4 L1076.8,417.0 L1078.8,415.6 L1080.8,414.2 L1082.8,412.7 L1084.8,411.3 L1086.9,409.9 L1088.9,408.5 L1090.9,407.1 L1092.9,405.7 L1094.9,404.3 L1096.9,402.9 L1098.9,401.5 L1100.9,400.1 L1102.9,398.7 L1104.9,397.3 L1106.9,395.9 L1108.9,394.5 L1110.9,393.1 L1112.9,391.7 L1114.9,390.3 L1116.9,388.9 L1118.9,387.5 L1120.9,386.1 L1122.9,384.7 L1124.9,383.3 L1126.9,381.9 L1128.9,380.5 L1130.9,379.1 L1132.9,377.7 L1134.9,376.3 L1136.9,374.9 L1138.9,373.5 L1140.9,372.1 L1142.9,370.7 L1144.9,369.3 L1146.9,367.9 L1148.9,366.5 L1150.9,365.1 L1152.9,363.7 L1154.9,362.4 L1156.9,361.0 L1158.9,359.6 L1160.9,358.2 L1163.0,356.8 L1165.0,355.4 L1167.0,354.0 L1169.0,352.6 L1171.0,351.2 L1173.0,349.9 L1175.0,348.5 L1177.0,347.1 L1179.0,345.7 L1181.0,344.3 L1183.0,342.9 L1185.0,341.5 L1187.0,340.2 L1189.0,338.8 L1191.0,337.4 L1193.0,336.0 L1195.0,334.6 L1197.0,333.3 L1199.0,331.9 L1201.0,330.5 L1203.0,329.1 L1205.0,327.7 L1207.0,326.4 L1209.0,325.0 L1211.0,323.6 L1213.0,322.3 L1215.0,320.9 L1217.0,319.5 L1219.0,318.2 L1221.0,316.8 L1223.0,315.5 L1225.0,314.2 L1227.0,312.8 L1229.0,311.5 L1231.0,310.2 L1233.0,308.9 L1235.0,307.5 L1237.1,306.2 L1239.1,304.9 L1241.1,303.7 L1243.1,302.4 L1245.1,301.1 L1247.1,299.8 L1249.1,298.6 L1251.1,297.3 L1253.1,296.1 L1255.1,294.9 L1257.1,293.7 L1259.1,292.4 L1261.1,291.2 L1263.1,290.1 L1265.1,288.9 L1267.1,287.7 L1269.1,286.6 L1271.1,285.4 L1273.1,284.3 L1275.1,283.2 L1277.1,282.1 L1279.1,281.0 L1281.1,279.9 L1283.1,278.9 L1285.1,277.8 L1287.1,276.8 L1289.1,275.8 L1291.1,274.8 L1293.1,273.8 L1295.1,272.8 L1297.1,271.8 L1299.1,270.9 L1301.1,270.0 L1303.1,269.1 L1305.1,268.2 L1307.1,267.3 L1309.1,266.4 L1311.1,265.6 L1313.2,264.8 L1315.2,264.0 L1317.2,263.2 L1319.2,262.5 L1321.2,261.7 L1323.2,261.0 L1325.2,260.3 L1327.2,259.6 L1329.2,259.0 L1331.2,258.3 L1333.2,257.7 L1335.2,257.1 L1337.2,256.5 L1339.2,256.0 L1341.2,255.5 L1343.2,255.0 L1345.2,254.5 L1347.2,254.0 L1349.2,253.6 L1351.2,253.2 L1353.2,252.8 L1355.2,252.4 L1357.2,252.1 L1359.2,251.8 L1361.2,251.5 L1363.2,251.3 L1365.2,251.0 L1367.2,250.8 L1369.2,250.6 L1371.2,250.5 L1373.2,250.3 L1375.2,250.2 L1377.2,250.1 L1379.2,250.1 L1381.2,250.0 L1383.2,250.0 L1385.2,250.0 L1387.3,250.0 L1389.3,250.1 L1391.3,250.2 L1393.3,250.3 L1395.3,250.4 L1397.3,250.5 L1399.3,250.7 L1401.3,250.9 L1403.3,251.1 L1405.3,251.3 L1407.3,251.5 L1409.3,251.8 L1411.3,252.1 L1413.3,252.4 L1415.3,252.7 L1417.3,253.1 L1419.3,253.5 L1421.3,253.9 L1423.3,254.3 L1425.3,254.7 L1427.3,255.2 L1429.3,255.6 L1431.3,256.1 L1433.3,256.6 L1435.3,257.2 L1437.3,257.7 L1439.3,258.3 L1441.3,258.9 L1443.3,259.5 L1445.3,260.1 L1447.3,260.7 L1449.3,261.4 L1451.3,262.1 L1453.3,262.7 L1455.3,263.5 L1457.3,264.2 L1459.3,264.9 L1461.3,265.7 L1463.4,266.5 L1465.4,267.3 L1467.4,268.1 L1469.4,268.9 L1471.4,269.7 L1473.4,270.6 L1475.4,271.5 L1477.4,272.3 L1479.4,273.2 L1481.4,274.2 L1483.4,275.1 L1485.4,276.0 L1487.4,277.0 L1489.4,278.0 L1491.4,279.0 L1493.4,280.0 L1495.4,281.0 L1497.4,282.0 L1499.4,283.1 L1501.4,284.1 L1503.4,285.2 L1505.4,286.3 L1507.4,287.4 L1509.4,288.5 L1511.4,289.6 L1513.4,290.8 L1515.4,291.9 L1517.4,293.1 L1519.4,294.2 L1521.4,295.4 L1523.4,296.6 L1525.4,297.8 L1527.4,299.0 L1529.4,300.3 L1531.4,301.5 L1533.4,302.7 L1535.4,304.0 L1537.5,305.3 L1539.5,306.5 L1541.5,307.8 L1543.5,309.1 L1545.5,310.4 L1547.5,311.7 L1549.5,313.0 L1551.5,314.3 L1553.5,315.6 L1555.5,317.0 L1557.5,318.3 L1559.5,319.6 L1561.5,321.0 L1563.5,322.3 L1565.5,323.7 L1567.5,325.0 L1569.5,326.4 L1571.5,327.7 L1573.5,329.1 L1575.5,330.5 L1577.5,331.8 L1579.5,333.2 L1581.5,334.5 L1583.5,335.9 L1585.5,337.3 L1587.5,338.6 L1589.5,340.0 L1591.5,341.4 L1593.5,342.7 L1595.5,344.1 L1597.5,345.5 L1599.5,346.8 L1601.5,348.2 L1603.5,349.5 L1605.5,350.9 L1607.5,352.2 L1609.5,353.5 L1611.5,354.9 L1613.6,356.2 L1615.6,357.5 L1617.6,358.8 L1619.6,360.2 L1621.6,361.5 L1623.6,362.8 L1625.6,364.1 L1627.6,365.3 L1629.6,366.6 L1631.6,367.9 L1633.6,369.1 L1635.6,370.4 L1637.6,371.6 L1639.6,372.8 L1641.6,374.1 L1643.6,375.3 L1645.6,376.5 L1647.6,377.7 L1649.6,378.8" stroke="#EDB120" stroke-dasharray="45.29 11.93 22.14 12.33" stroke-dashoffset="-0.5"/>
</g>
<rect x="948" y="617.1" width="674" height="309.8" fill="#fff" stroke="#000" stroke-width="6"/>
<g fill="none" stroke-width="12">
<path d="M990,670.9H1118.3" stroke="#0072BD"/>
<path d="M990,772.4H1024.2M1038.5,772.4H1072.3M1084.1,772.4H1118.3" stroke="#D95319"/>
<path d="M990,872.9H1032.7M1048,872.9H1059.8M1076.1,872.9H1118.3" stroke="#EDB120"/>
</g>
<g font-family="'Liberation Serif', 'Times New Roman', serif" font-size="86" fill="#000">
<text x="1162.8" y="702.7" textLength="281.3" lengthAdjust="spacingAndGlyphs">PZT-5A</text>
<text x="1162.8" y="802" textLength="440.5" lengthAdjust="spacingAndGlyphs">PZZN-PLZT</text>
<text x="1162.8" y="904" textLength="216.6" lengthAdjust="spacingAndGlyphs">PVDF</text>
</g>
<g font-family="'Liberation Sans', Arial, Helvetica, sans-serif" fill="#000">
<text><tspan x="247.0" y="89.6" font-size="96">1</tspan><tspan x="294.9" y="89.6" font-size="96">0</tspan><tspan x="344.85" y="69.6" font-size="69">&#x2212;</tspan><tspan x="381.1" y="62.4" font-size="64">2</tspan></text>
<text><tspan x="247.0" y="276.3" font-size="96">1</tspan><tspan x="294.9" y="276.3" font-size="96">0</tspan><tspan x="344.85" y="256.3" font-size="69">&#x2212;</tspan><tspan x="381.1" y="249.1" font-size="64">3</tspan></text>
<text><tspan x="247.0" y="463.0" font-size="96">1</tspan><tspan x="294.9" y="463.0" font-size="96">0</tspan><tspan x="344.85" y="443.0" font-size="69">&#x2212;</tspan><tspan x="381.1" y="435.8" font-size="64">4</tspan></text>
<text><tspan x="247.0" y="649.7" font-size="96">1</tspan><tspan x="294.9" y="649.7" font-size="96">0</tspan><tspan x="344.85" y="629.7" font-size="69">&#x2212;</tspan><tspan x="381.1" y="622.5" font-size="64">5</tspan></text>
<text><tspan x="247.0" y="836.4" font-size="96">1</tspan><tspan x="294.9" y="836.4" font-size="96">0</tspan><tspan x="344.85" y="816.4" font-size="69">&#x2212;</tspan><tspan x="381.1" y="809.2" font-size="64">6</tspan></text>
<text><tspan x="247.0" y="1023.1" font-size="96">1</tspan><tspan x="294.9" y="1023.1" font-size="96">0</tspan><tspan x="344.85" y="1003.1" font-size="69">&#x2212;</tspan><tspan x="381.1" y="995.9" font-size="64">7</tspan></text>
<text><tspan x="377.4" y="1135" font-size="96">1</tspan><tspan x="425.3" y="1135" font-size="96">0</tspan><tspan x="479.4" y="1088.9" font-size="76">3</tspan></text>
<text><tspan x="638.6" y="1135" font-size="96">1</tspan><tspan x="686.4" y="1135" font-size="96">0</tspan><tspan x="740.6" y="1088.9" font-size="76">4</tspan></text>
<text><tspan x="899.7" y="1135" font-size="96">1</tspan><tspan x="947.5" y="1135" font-size="96">0</tspan><tspan x="1001.7" y="1088.9" font-size="76">5</tspan></text>
<text><tspan x="1160.8" y="1135" font-size="96">1</tspan><tspan x="1208.6" y="1135" font-size="96">0</tspan><tspan x="1262.8" y="1088.9" font-size="76">6</tspan></text>
<text><tspan x="1421.9" y="1135" font-size="96">1</tspan><tspan x="1469.7" y="1135" font-size="96">0</tspan><tspan x="1523.9" y="1088.9" font-size="76">7</tspan></text>
</g>
<g font-family="'Liberation Serif', 'Times New Roman', serif" fill="#000">
<text transform="rotate(-90)"><tspan x="-784.5" y="102" font-size="111" font-style="italic">P</tspan><tspan x="-720.45" y="128.7" font-size="72" font-style="italic">mean</tspan><tspan x="-540.5" y="106.6" font-size="113.6">[</tspan><tspan x="-501.0" y="102" font-size="111" textLength="94.3" lengthAdjust="spacingAndGlyphs">W</tspan><tspan x="-402.4" y="102" font-size="111">/</tspan><tspan x="-372.9" y="103.4" font-size="97">g</tspan><tspan x="-319.9" y="69.3" font-size="73">2</tspan><tspan x="-285.0" y="106.6" font-size="113.6">]</tspan></text>
<text><tspan x="913.7" y="1317.5" font-size="111" font-style="italic">R</tspan><tspan x="981.8" y="1344.4" font-size="74">l</tspan><tspan x="1027.0" y="1322.6" font-size="114">[</tspan><tspan x="1062.1" y="1317.5" font-size="111">&#x3A9;</tspan><tspan x="1142.2" y="1322.6" font-size="114">]</tspan></text>
</g>
</svg></body></html>
